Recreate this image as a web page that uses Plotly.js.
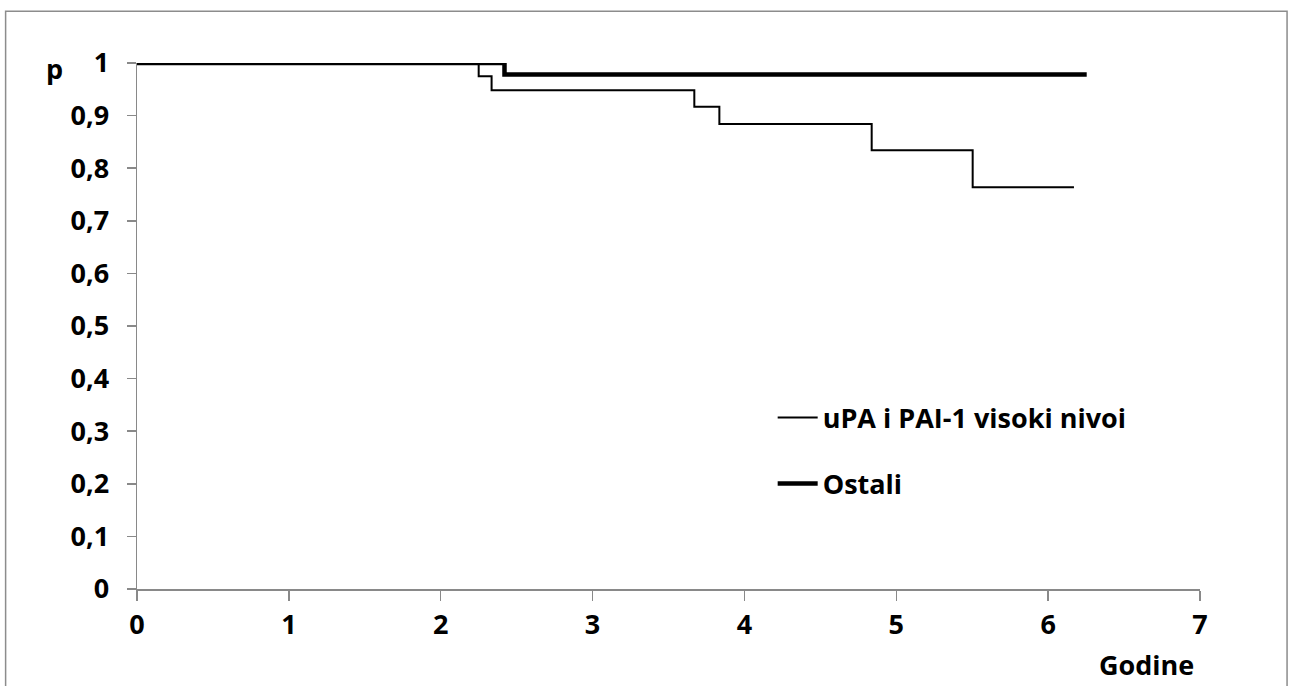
<!DOCTYPE html>
<html>
<head>
<meta charset="utf-8">
<script src="https://cdn.plot.ly/plotly-3.0.1.min.js"></script>
<style>html,body{margin:0;padding:0;background:#fff;}#chart{width:1292px;height:686px;}</style>
</head>
<body>
<div id="chart"></div>
<script>
// Kaplan-Meier steps
const highTimes = [0, 2.25, 2.335, 3.67, 3.835, 4.838, 5.503, 6.17];
const highSurv  = [1, 0.975, 0.948, 0.917, 0.884, 0.834, 0.764, 0.764];
const otherTimes = [0, 2.42, 6.254];
const otherSurv  = [1, 0.978, 0.978];
const seriesNames = ["uPA i PAI-1 visoki nivoi", "Ostali"];
const xTicks = [0, 1, 2, 3, 4, 5, 6, 7];
const yTicks = [0, 0.1, 0.2, 0.3, 0.4, 0.5, 0.6, 0.7, 0.8, 0.9, 1];

const FONT = "'Open Sans', sans-serif";
const axisGray = "#898989";
const SZ = 27;

const traces = [
  {x: highTimes, y: highSurv, name: seriesNames[0], mode: "lines",
   line: {shape: "hv", color: "#000", width: 2}, legendgroup: "a"},
  {x: otherTimes, y: otherSurv, name: seriesNames[1], mode: "lines",
   line: {shape: "hv", color: "#000", width: 4.5}, legendgroup: "b"}
];

const layout = {
  width: 1292, height: 686,
  margin: {l: 137, r: 92, t: 63, b: 97},
  paper_bgcolor: "#fff", plot_bgcolor: "#fff",
  separators: ", ",
  font: {family: FONT, size: SZ, color: "#000", weight: "bold"},
  showlegend: true,
  legend: {x: 0.598, y: 0.372, xanchor: "left", yanchor: "top",
           font: {family: FONT, size: SZ, color: "#000", weight: "bold"},
           tracegroupgap: 28, bgcolor: "rgba(0,0,0,0)", itemwidth: 40},
  xaxis: {range: [0, 7], tickvals: xTicks, ticks: "outside", ticklen: 10,
          tickcolor: axisGray, tickwidth: 1.5, showline: true, linecolor: axisGray,
          linewidth: 1.5, showgrid: false, zeroline: false, fixedrange: true,
          ticklabelstandoff: 1,
          tickfont: {family: FONT, size: SZ, color: "#000", weight: "bold"}},
  yaxis: {range: [0, 1], tickvals: yTicks, ticks: "outside", ticklen: 9,
          tickcolor: axisGray, tickwidth: 1.5, showline: true, linecolor: axisGray,
          linewidth: 1.5, showgrid: false, zeroline: false, fixedrange: true,
          ticklabelstandoff: 12,
          tickfont: {family: FONT, size: SZ, color: "#000", weight: "bold"}},
  annotations: [
    {text: "p", xref: "paper", yref: "paper", x: -0.078, y: 0.99, xanchor: "center", yanchor: "middle",
     showarrow: false, font: {family: FONT, size: SZ, color: "#000", weight: "bold"}},
    {text: "Godine", xref: "paper", yref: "paper", x: 0.95, y: -0.143, xanchor: "center", yanchor: "middle",
     showarrow: false, font: {family: FONT, size: SZ, color: "#000", weight: "bold"}}
  ],
  shapes: [
    {type: "rect", xref: "paper", yref: "paper", x0: -0.1236, x1: 1.0819, y0: -0.2, y1: 1.0982,
     line: {color: "#8c8c8c", width: 1.5}, fillcolor: "rgba(0,0,0,0)", layer: "below"}
  ]
};

Plotly.newPlot("chart", traces, layout, {displayModeBar: false, staticPlot: true});
</script>
</body>
</html>
